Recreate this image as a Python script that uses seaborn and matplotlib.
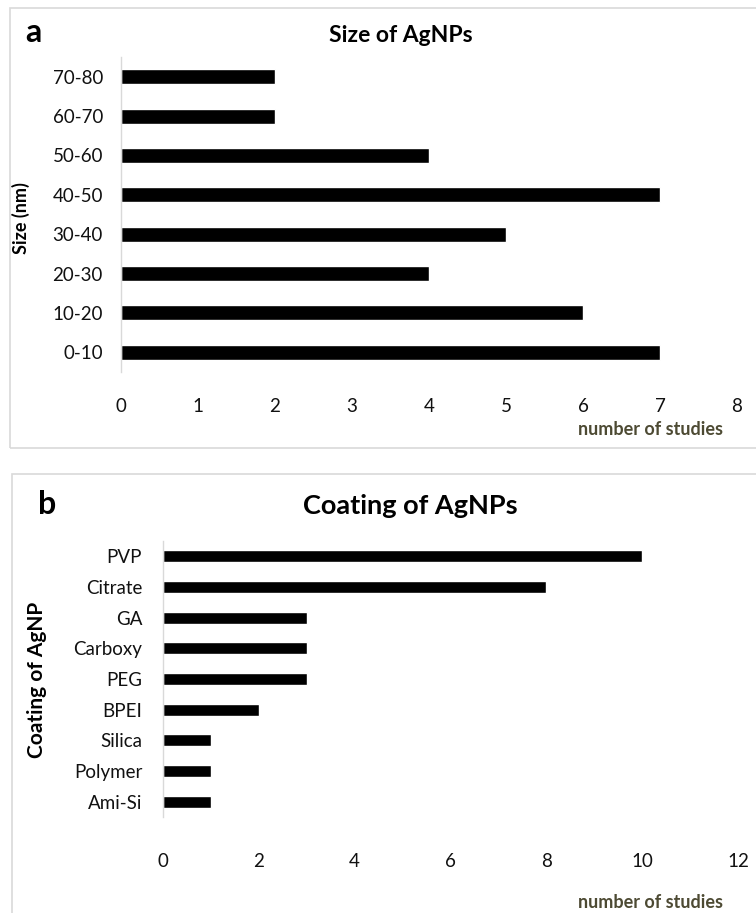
import matplotlib
matplotlib.use("Agg")
import matplotlib.pyplot as plt
import seaborn as sns
import pandas as pd
from matplotlib.patches import Rectangle

# Data: number of studies by particle size and by coating
size_bins = ["70-80", "60-70", "50-60", "40-50", "30-40", "20-30", "10-20", "0-10"]
size_counts = [2, 2, 4, 7, 5, 4, 6, 7]
size_ticks = [0, 1, 2, 3, 4, 5, 6, 7, 8]

coatings = ["PVP", "Citrate", "GA", "Carboxy", "PEG", "BPEI", "Silica", "Polymer", "Ami-Si"]
coating_counts = [10, 8, 3, 3, 3, 2, 1, 1, 1]
coating_ticks = [0, 2, 4, 6, 8, 10, 12]

sns.set_theme(style="white")
plt.rcParams["font.family"] = ["Lato", "DejaVu Sans"]
plt.rcParams["text.color"] = "black"
plt.rcParams["axes.labelcolor"] = "black"

W, H = 756, 913
fig = plt.figure(figsize=(W / 100, H / 100), dpi=100)
fig.patch.set_facecolor("white")


def px_axes(left, right, top, bottom):
    return fig.add_axes([left / W, 1 - bottom / H, (right - left) / W, (bottom - top) / H])


def frame(x0, y0, x1, y1):
    fig.patches.append(Rectangle((x0 / W, 1 - y1 / H), (x1 - x0) / W, (y1 - y0) / H,
                                 transform=fig.transFigure, fill=False,
                                 edgecolor="#d9d9d9", linewidth=1.2, clip_on=False))


def style_axis(ax, ticks, xlim, xpad, ypad):
    ax.set_xlim(*xlim)
    ax.set_xticks(ticks)
    ax.set_xticklabels([str(t) for t in ticks])
    ax.tick_params(axis="x", length=0, pad=xpad, labelsize=13.5, labelcolor="#111111")
    ax.tick_params(axis="y", length=0, pad=ypad, labelsize=13.5, labelcolor="#111111")
    for s in ["top", "right", "bottom"]:
        ax.spines[s].set_visible(False)
    ax.spines["left"].set_color("#d9d9d9")
    ax.spines["left"].set_linewidth(1.0)
    ax.set_xlabel("")
    ax.grid(False)


label_color = "#4d4a33"

# Panel a: size distribution
frame(10, 8, 770, 448)
df_size = pd.DataFrame({"size": size_bins, "count": size_counts})
ax1 = px_axes(121, 737, 57, 372)
sns.barplot(data=df_size, y="size", x="count", order=size_bins, orient="h",
            color="black", width=0.38, ax=ax1, saturation=1)
style_axis(ax1, size_ticks, (0, 8), 19, 13)
ax1.set_ylim(len(size_bins) - 0.5, -0.5)
ax1.set_ylabel("Size (nm)", fontsize=13, fontweight="bold")
ax1.yaxis.set_label_coords(30 / W, 1 - 218 / H, transform=fig.transFigure)
fig.text(401 / W, 1 - 36 / H, "Size of AgNPs", ha="center", va="center",
         fontsize=16.5, fontweight="bold")
fig.text(33 / W, 1 - 33 / H, "a", ha="center", va="center",
         fontsize=23, fontweight="bold")
fig.text(723 / W, 1 - 429 / H, "number of studies", ha="right", va="center",
         fontsize=13, fontweight="bold", color=label_color)

# Panel b: coating distribution
frame(12, 474, 770, 930)
df_coat = pd.DataFrame({"coating": coatings, "count": coating_counts})
ax2 = px_axes(163, 738, 541, 817)
sns.barplot(data=df_coat, y="coating", x="count", order=coatings, orient="h",
            color="black", width=0.4, ax=ax2, saturation=1)
style_axis(ax2, coating_ticks, (0, 12), 26, 15)
ax2.set_ylim(len(coatings) - 0.5, -0.5)
ax2.set_ylabel("Coating of AgNP", fontsize=15, fontweight="bold")
ax2.yaxis.set_label_coords(47 / W, 1 - 680 / H, transform=fig.transFigure)
fig.text(410 / W, 1 - 506 / H, "Coating of AgNPs", ha="center", va="center",
         fontsize=19.5, fontweight="bold")
fig.text(47 / W, 1 - 505 / H, "b", ha="center", va="center",
         fontsize=23, fontweight="bold")
fig.text(723 / W, 1 - 902 / H, "number of studies", ha="right", va="center",
         fontsize=13, fontweight="bold", color=label_color)

fig.savefig("out.png", dpi=100, facecolor="white")
